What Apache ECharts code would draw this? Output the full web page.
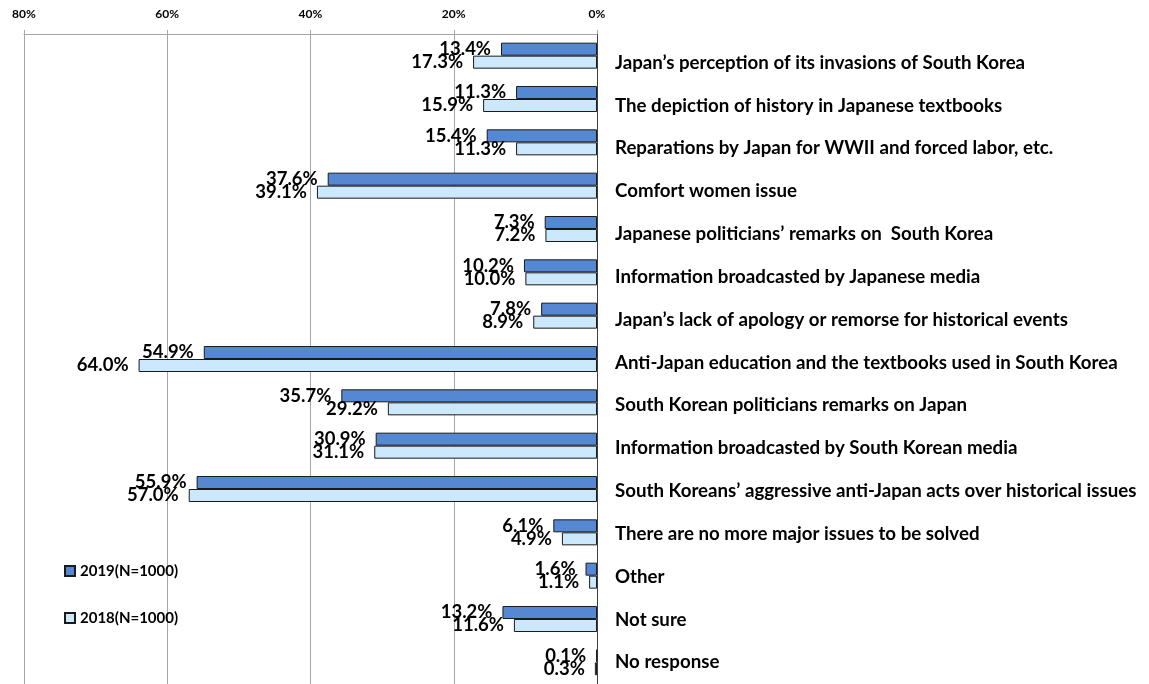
<!DOCTYPE html>
<html><head><meta charset="utf-8">
<script src="https://cdn.jsdelivr.net/npm/echarts@6/dist/echarts.min.js"></script>
<style>html,body{margin:0;padding:0;background:#fff}#c{width:1149px;height:684px}</style>
</head><body><div id="c"></div>
<script>
const categories = [
  "Japan’s perception of its invasions of South Korea",
  "The depiction of history in Japanese textbooks",
  "Reparations by Japan for WWII and forced labor, etc.",
  "Comfort women issue",
  "Japanese politicians’ remarks on  South Korea",
  "Information broadcasted by Japanese media",
  "Japan’s lack of apology or remorse for historical events",
  "Anti-Japan education and the textbooks used in South Korea",
  "South Korean politicians remarks on Japan",
  "Information broadcasted by South Korean media",
  "South Koreans’ aggressive anti-Japan acts over historical issues",
  "There are no more major issues to be solved",
  "Other",
  "Not sure",
  "No response"
];
const values2019 = [13.4, 11.3, 15.4, 37.6, 7.3, 10.2, 7.8, 54.9, 35.7, 30.9, 55.9, 6.1, 1.6, 13.2, 0.1];
const values2018 = [17.3, 15.9, 11.3, 39.1, 7.2, 10.0, 8.9, 64.0, 29.2, 31.1, 57.0, 4.9, 1.1, 11.6, 0.3];
const seriesNames = ["2019(N=1000)", "2018(N=1000)"];
const xTicks = [0, 20, 40, 60, 80];

const chart = echarts.init(document.getElementById('c'), null, {renderer: 'canvas'});
const labelStyle = {
  show: true, position: 'left', distance: 10,
  fontFamily: 'Lato', fontWeight: 'bold', fontSize: 18.5, color: '#000',
  formatter: p => p.value.toFixed(1) + '%'
};
// category labels in the reference sit slightly below the bar centre, drifting to 0 at the bottom
const catFont = {fontFamily: 'Lato', fontWeight: 'bold', fontSize: 18.7, color: '#000'};
const rich = {};
categories.forEach((c, i) => {
  const off = Math.max(0, 7 - 0.5 * i);
  rich['r' + i] = Object.assign({padding: [2 * off, 0, 0, 0]}, catFont);
});
chart.setOption({
  animation: false,
  grid: {left: 24, right: 1149 - 597, top: 34, height: 653, containLabel: false},
  legend: {
    orient: 'vertical', left: 59, top: 558, itemGap: 31,
    itemWidth: 10, itemHeight: 10,
    textStyle: {fontFamily: 'Lato', fontWeight: 'bold', fontSize: 15, lineHeight: 16, color: '#000'},
    data: seriesNames.map(n => ({name: n, icon: 'rect'}))
  },
  xAxis: {
    type: 'value', position: 'top', inverse: true,
    min: xTicks[0], max: xTicks[xTicks.length - 1], interval: 20,
    axisLine: {show: true, lineStyle: {color: '#a6a6a6', width: 1}},
    axisTick: {show: true, length: 4, lineStyle: {color: '#a6a6a6'}},
    splitLine: {show: true, lineStyle: {color: '#a6a6a6', width: 1}},
    axisLabel: {formatter: '{value}%', fontFamily: 'Lato', fontWeight: 'bold', fontSize: 12, color: '#000', margin: 14}
  },
  yAxis: {
    type: 'category', inverse: true, position: 'right', data: categories,
    axisLine: {show: true, lineStyle: {color: '#404040', width: 1}},
    axisTick: {show: false},
    axisLabel: Object.assign({margin: 18, rich: rich,
      formatter: (v, i) => '{r' + i + '|' + v + '}'}, catFont)
  },
  series: [
    {name: seriesNames[0], type: 'bar', data: values2019, barWidth: 13, barGap: '0%',
     itemStyle: {color: '#5588d3', borderColor: '#1a1a1a', borderWidth: 1}, label: labelStyle},
    {name: seriesNames[1], type: 'bar', data: values2018, barWidth: 13, barGap: '0%',
     itemStyle: {color: '#cbe8fd', borderColor: '#1a1a1a', borderWidth: 1}, label: labelStyle}
  ]
});
</script></body></html>
